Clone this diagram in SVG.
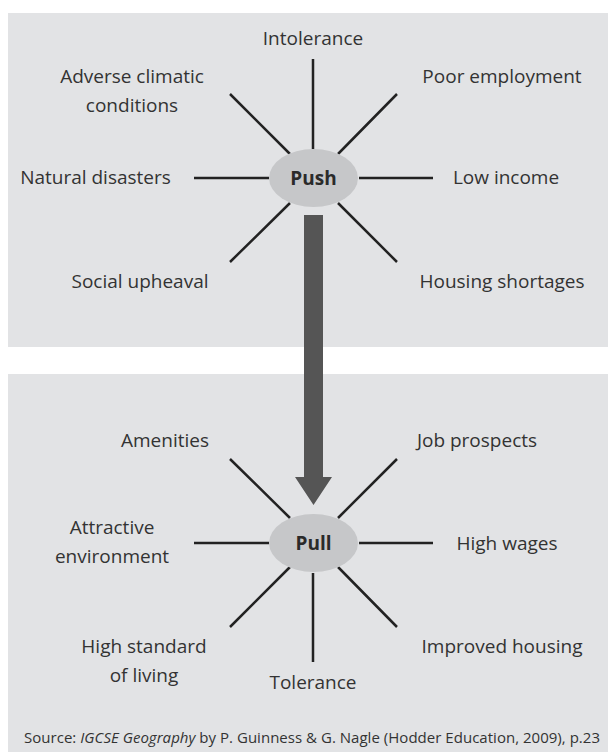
<svg xmlns="http://www.w3.org/2000/svg" width="608" height="756" viewBox="0 0 608 756">
<style>
.panel{fill:#e2e3e5}
.lbl{font-family:"Open Sans","Noto Sans","Liberation Sans",sans-serif;font-size:19px;fill:#333;text-anchor:middle}
.hub{fill:#c6c7c9}
.hubt{font-family:"Open Sans","Noto Sans","Liberation Sans",sans-serif;font-size:19px;font-weight:bold;fill:#2a2a2a;text-anchor:middle}
.spoke{stroke:#222;stroke-width:2.5;fill:none}
.src{font-family:"Open Sans","Noto Sans","Liberation Sans",sans-serif;font-size:15px;fill:#333}
</style>
<rect x="0" y="0" width="608" height="756" fill="#ffffff"/>
<rect class="panel" x="8" y="13" width="600" height="334"/>
<rect class="panel" x="8" y="374" width="600" height="378"/>
<g id="connectors">
<path class="spoke" d="M313,59V149M230,94L290,154M397,94L338,154M194,178H269M359,178H433M290,203L230,262M338,203L397,262"/>
<path class="spoke" d="M230,459L290,518M397,459L338,518M194,543H269M359,543H433M290,567L230,627M338,567L397,627M313,573V662"/>
<path id="arrow" d="M304,215H323V477H332L313.5,505L295,477H304Z" fill="#555"/>
</g>
<g id="push">
<ellipse class="hub" cx="313.5" cy="178" rx="44.5" ry="29"/>
<text class="hubt" x="313.5" y="185">Push</text>
</g>
<g id="intolerance"><text class="lbl" x="313" y="45">Intolerance</text></g>
<g id="adverse"><text class="lbl" x="132" y="83">Adverse climatic</text><text class="lbl" x="132" y="112">conditions</text></g>
<g id="poor-employment"><text class="lbl" x="502" y="83">Poor employment</text></g>
<g id="natural-disasters"><text class="lbl" x="95.5" y="184">Natural disasters</text></g>
<g id="low-income"><text class="lbl" x="506" y="184">Low income</text></g>
<g id="social-upheaval"><text class="lbl" x="140" y="288">Social upheaval</text></g>
<g id="housing-shortages"><text class="lbl" x="502" y="288">Housing shortages</text></g>
<g id="pull">
<ellipse class="hub" cx="313.5" cy="543" rx="44.5" ry="29"/>
<text class="hubt" x="313.5" y="550">Pull</text>
</g>
<g id="amenities"><text class="lbl" x="165" y="447">Amenities</text></g>
<g id="job-prospects"><text class="lbl" x="477" y="447">Job prospects</text></g>
<g id="attractive"><text class="lbl" x="112" y="534">Attractive</text><text class="lbl" x="112" y="563">environment</text></g>
<g id="high-wages"><text class="lbl" x="507" y="550">High wages</text></g>
<g id="high-standard"><text class="lbl" x="144" y="653">High standard</text><text class="lbl" x="144" y="682">of living</text></g>
<g id="improved-housing"><text class="lbl" x="502" y="653">Improved housing</text></g>
<g id="tolerance"><text class="lbl" x="313" y="689">Tolerance</text></g>
<g id="source"><text class="src" x="24" y="743" textLength="576" lengthAdjust="spacing">Source: <tspan font-style="italic">IGCSE Geography</tspan> by P. Guinness &amp; G. Nagle (Hodder Education, 2009), p.23</text></g>
</svg>
